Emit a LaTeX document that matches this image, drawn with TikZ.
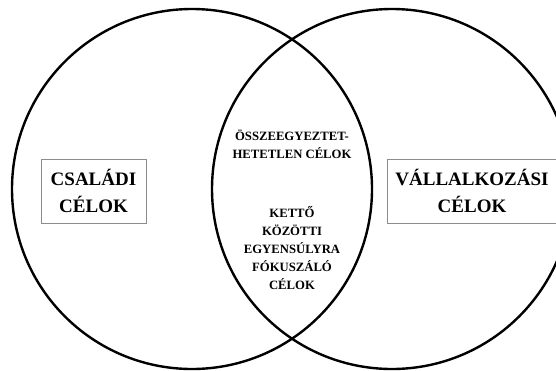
\documentclass[tikz,border=0pt]{standalone}
\usepackage{fontspec}
\setmainfont{Liberation Serif}
\usetikzlibrary{shapes, positioning}

\begin{document}
\begin{tikzpicture}[
    x=1pt, y=-1pt,
    goalcircle/.style={circle, draw, line width=2.4pt, minimum size=360pt, inner sep=0pt},
    goalbox/.style={draw=black!45, line width=0.8pt, fill=white, align=center, minimum height=64pt,
        font=\bfseries\fontsize{19}{27}\selectfont},
    lenstext/.style={align=center, inner sep=0pt, font=\bfseries\fontsize{12.7}{18}\selectfont}
]

% -------------------------------------------------------------------------
% Canvas (pixel grid of the original figure)
% -------------------------------------------------------------------------
\useasboundingbox (0,0) rectangle (556,370);

% Two overlapping goal circles
\node[goalcircle] (csaladi) at (192,189) {};
\node[goalcircle] (vallalati) at (392,189) {};

% Side labels in boxes
\node[goalbox, minimum width=105pt] (csaladibox) at (93.5,191) {CSALÁDI\\CÉLOK};
\node[goalbox, minimum width=170pt] (vallalatibox) at (472,191) {VÁLLALKOZÁSI\\CÉLOK};

% Texts inside the overlap
\node[lenstext] (osszeegy) at (292,144) {ÖSSZEEGYEZTET-\\HETETLEN CÉLOK};
\node[lenstext] (egyensuly) at (292,248) {KETTŐ\\KÖZÖTTI\\EGYENSÚLYRA\\FÓKUSZÁLÓ\\CÉLOK};

\end{tikzpicture}
\end{document}
